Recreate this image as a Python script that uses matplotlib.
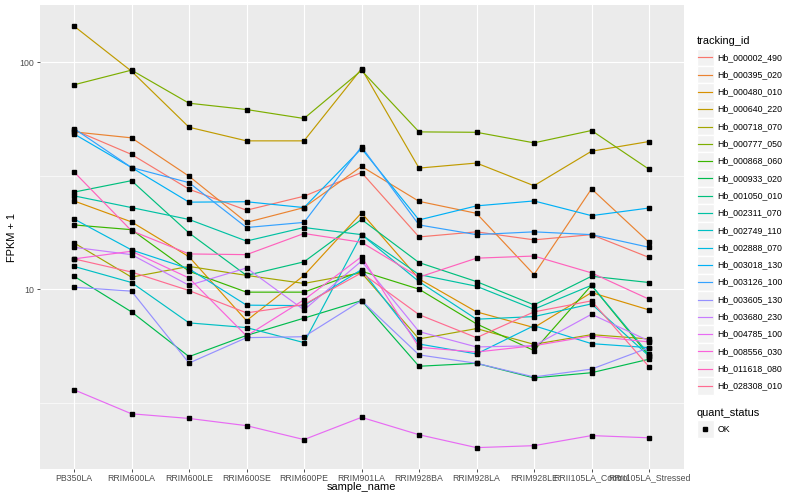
import matplotlib
matplotlib.use("Agg")
import numpy as np
import matplotlib.pyplot as plt
from matplotlib.ticker import FixedLocator, NullFormatter, FixedFormatter
from matplotlib.patches import Rectangle

plt.rcParams['font.family'] = ['Liberation Sans', 'DejaVu Sans']

samples = ["PB350LA", "RRIM600LA", "RRIM600LE", "RRIM600SE", "RRIM600PE",
           "RRIM901LA", "RRIM928BA", "RRIM928LA", "RRIM928LE",
           "RRII105LA_Control", "RRII105LA_Stressed"]

tracking_ids = ["Hb_000002_490", "Hb_000395_020", "Hb_000480_010", "Hb_000640_220",
                "Hb_000718_070", "Hb_000777_050", "Hb_000868_060", "Hb_000933_020",
                "Hb_001050_010", "Hb_002311_070", "Hb_002749_110", "Hb_002888_070",
                "Hb_003018_130", "Hb_003126_100", "Hb_003605_130", "Hb_003680_230",
                "Hb_004785_100", "Hb_008556_030", "Hb_011618_080", "Hb_028308_010"]

colors = ["#F8766D", "#EA8331", "#D89000", "#C09B00", "#A3A500", "#7CAE00",
          "#39B600", "#00BB4E", "#00BF7D", "#00C1A3", "#00BFC4", "#00BAE0",
          "#00B0F6", "#35A2FF", "#9590FF", "#C77CFF", "#E76BF3", "#FA62DB",
          "#FF62BC", "#FF6C91"]

# FPKM + 1 values per gene, in sample order
Hb_000002_490 = [50.4, 39.3, 27.6, 22.3, 25.7, 32.7, 17.0, 17.9, 16.5, 17.4, 13.8]
Hb_000395_020 = [49.4, 46.5, 31.5, 19.7, 22.9, 34.8, 24.4, 21.6, 11.6, 27.7, 16.1]
Hb_000480_010 = [24.5, 19.8, 13.9, 7.26, 11.5, 21.7, 11.1, 7.94, 6.77, 9.66, 8.10]
Hb_000640_220 = [144.7, 91.5, 51.8, 45.1, 45.1, 93.8, 34.2, 36.0, 28.6, 40.6, 44.8]
Hb_000718_070 = [16.0, 11.3, 12.6, 11.5, 10.6, 11.8, 6.03, 6.70, 5.71, 6.30, 6.03]
Hb_000777_050 = [79.7, 92.5, 66.1, 62.0, 56.6, 92.2, 49.4, 49.2, 44.2, 50.1, 33.8]
Hb_000868_060 = [19.2, 18.3, 12.0, 9.70, 9.70, 12.0, 10.0, 7.03, 5.36, 10.4, 5.07]
Hb_000933_020 = [11.4, 7.94, 5.04, 6.25, 7.45, 8.90, 4.57, 4.71, 4.06, 4.28, 4.91]
Hb_001050_010 = [26.8, 30.1, 17.7, 11.5, 13.2, 20.3, 13.1, 10.8, 8.52, 11.4, 10.7]
Hb_002311_070 = [25.8, 22.9, 20.3, 16.3, 18.7, 17.4, 11.6, 10.3, 8.16, 10.4, 5.16]
Hb_002749_110 = [12.6, 10.7, 7.10, 6.77, 5.81, 17.4, 10.8, 7.37, 7.57, 8.61, 5.07]
Hb_002888_070 = [20.4, 14.9, 12.3, 8.50, 8.46, 12.2, 5.73, 5.18, 6.90, 5.75, 5.52]
Hb_003018_130 = [48.4, 34.4, 24.2, 24.3, 22.9, 41.7, 20.2, 23.3, 24.5, 21.1, 22.8]
Hb_003126_100 = [51.1, 34.4, 29.5, 18.7, 19.7, 42.5, 19.2, 17.4, 17.9, 17.4, 15.3]
Hb_003605_130 = [10.2, 9.80, 4.72, 6.11, 6.17, 8.90, 5.13, 4.71, 4.10, 4.44, 5.52]
Hb_003680_230 = [15.3, 14.2, 10.4, 12.4, 8.10, 13.3, 6.50, 5.56, 5.63, 7.75, 5.91]
Hb_004785_100 = [3.60, 2.82, 2.69, 2.50, 2.17, 2.72, 2.28, 2.00, 2.04, 2.26, 2.21]
Hb_008556_030 = [13.6, 14.7, 11.2, 6.22, 8.97, 13.9, 5.54, 5.28, 5.63, 6.22, 5.85]
Hb_011618_080 = [32.9, 18.1, 14.3, 14.2, 17.6, 16.1, 11.3, 13.7, 14.0, 11.8, 9.03]
Hb_028308_010 = [13.6, 11.9, 9.86, 7.86, 8.55, 11.8, 7.72, 6.11, 7.94, 8.88, 4.55]

series = [Hb_000002_490, Hb_000395_020, Hb_000480_010, Hb_000640_220, Hb_000718_070,
          Hb_000777_050, Hb_000868_060, Hb_000933_020, Hb_001050_010, Hb_002311_070,
          Hb_002749_110, Hb_002888_070, Hb_003018_130, Hb_003126_100, Hb_003605_130,
          Hb_003680_230, Hb_004785_100, Hb_008556_030, Hb_011618_080, Hb_028308_010]

quant_status = ["OK"]

W, H = 800, 500
fig = plt.figure(figsize=(8, 5), dpi=100)
fig.patch.set_facecolor("white")

# panel in pixel coordinates
pl, pr, pt, pb = 39.5, 683.5, 5.0, 468.7
ax = fig.add_axes([pl / W, 1 - pb / H, (pr - pl) / W, (pb - pt) / H])
ax.set_facecolor("#EBEBEB")
for s in ax.spines.values():
    s.set_visible(False)

x = np.arange(len(samples))
for vals, c in zip(series, colors):
    ax.plot(x, vals, color=c, lw=0.85, zorder=3, solid_capstyle="butt")
for vals in series:
    ax.plot(x, vals, ls="none", marker="s", ms=2.9, color="black", zorder=4)

ax.set_yscale("log")
allv = np.log10(np.concatenate([np.asarray(v, float) for v in series]))
lo, hi = allv.min(), allv.max()
ex = 0.05 * (hi - lo)
ax.set_ylim(10 ** (lo - ex), 10 ** (hi + ex))
ax.set_xlim(-0.6, len(samples) - 1 + 0.6)

ax.yaxis.set_major_locator(FixedLocator([10, 100]))
ax.yaxis.set_major_formatter(FixedFormatter(["10", "100"]))
ax.yaxis.set_minor_locator(FixedLocator([10 ** 0.5, 10 ** 1.5]))
ax.yaxis.set_minor_formatter(NullFormatter())
ax.set_xticks(x)
ax.set_xticklabels(samples)

ax.grid(True, which="major", color="white", lw=0.85, zorder=1)
ax.grid(True, which="minor", axis="y", color="white", lw=0.45, zorder=1)
ax.set_axisbelow(True)
ax.tick_params(which="major", length=2.0, width=0.6, color="#333333",
               labelsize=6.3, labelcolor="#4D4D4D", pad=1.6)
ax.tick_params(which="minor", length=0)

fig.text(361.5 / W, 1 - 487.5 / H, "sample_name", ha="center", va="center",
         fontsize=7.9, color="black")
fig.text(12 / W, 1 - 237 / H, "FPKM + 1", ha="center", va="center",
         rotation=90, fontsize=7.9, color="black")

# legend drawn in pixel coordinates
lg = fig.add_axes([0, 0, 1, 1], zorder=10)
lg.set_xlim(0, W)
lg.set_ylim(H, 0)
lg.axis("off")
lg.patch.set_alpha(0)

kx, ks = 696.5, 17.3
lg.text(kx, 40.7, "tracking_id", ha="left", va="center", fontsize=7.9, color="black")
y0 = 57.3
for i, (name, c) in enumerate(zip(tracking_ids, colors)):
    yc = y0 + i * ks
    lg.add_patch(Rectangle((kx, yc - ks / 2), ks, ks, fc="#F2F2F2", ec="white", lw=1.0))
    lg.plot([kx + 1.7, kx + ks - 1.7], [yc, yc], color=c, lw=0.85)
    lg.text(kx + ks + 3.5, yc, name, ha="left", va="center", fontsize=6.3, color="black")

lg.text(kx, 412.7, "quant_status", ha="left", va="center", fontsize=7.9, color="black")
for j, q in enumerate(quant_status):
    yc = 429.0 + j * ks
    lg.add_patch(Rectangle((kx, yc - ks / 2), ks, ks, fc="#F2F2F2", ec="white", lw=1.0))
    lg.plot([kx + ks / 2], [yc], ls="none", marker="s", ms=2.9, color="black")
    lg.text(kx + ks + 3.5, yc, q, ha="left", va="center", fontsize=6.3, color="black")

fig.savefig("out.png", dpi=100, facecolor="white")
